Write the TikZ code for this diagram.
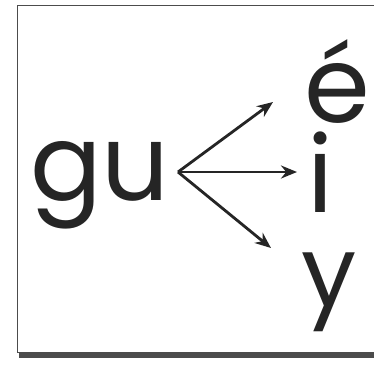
\documentclass[tikz,border=0pt]{standalone}
\usepackage{fontspec}
\setmainfont{Poppins}
\usetikzlibrary{arrows.meta}
\definecolor{ink}{HTML}{252525}
\begin{document}
\begin{tikzpicture}[x=1pt,y=-1pt,
  letter/.style={inner sep=0pt,anchor=base west,text=ink,font=\fontsize{106}{106}\selectfont},
  arr/.style={draw=ink,line width=2.8pt,-{Stealth[length=16pt,width=13pt]}}]
\useasboundingbox (0,0) rectangle (374,370);
\fill[gray!60!black] (19,9) rectangle (390,358);
\fill[white,draw=gray!60!black,line width=1pt] (17,5) rectangle (385,352);
\node[letter] (gu) at (30,200) {gu};
\node[letter] (e) at (304,122) {é};
\node[letter] (i) at (307,212) {i};
\node[letter,font=\fontsize{98}{98}\selectfont] (y) at (301,306) {y};
\coordinate (o) at (178,172);
\coordinate (te) at (273,102);
\coordinate (ti) at (297,172);
\coordinate (ty) at (271,248);
\draw[arr] (o) -- (te);
\draw[arr] (o) -- (ti);
\draw[arr] (o) -- (ty);
\end{tikzpicture}
\end{document}
